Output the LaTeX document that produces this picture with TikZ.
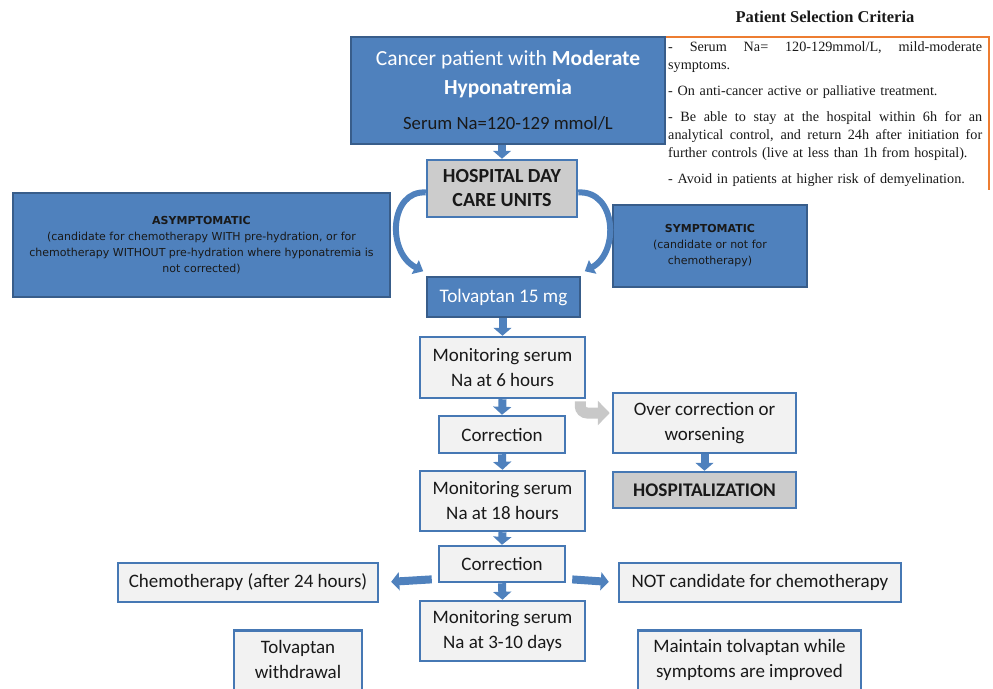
\documentclass[tikz,border=0pt]{standalone}
\usepackage{fontspec}
\setmainfont{Carlito}
\newfontfamily\verd{DejaVu Sans}
\newfontfamily\camb{Liberation Serif}
\usetikzlibrary{arrows.meta}
\definecolor{bfill}{RGB}{79,129,189}
\definecolor{bdraw}{RGB}{56,93,138}
\definecolor{lfill}{RGB}{242,242,242}
\definecolor{ldraw}{RGB}{70,120,180}
\definecolor{gfill}{RGB}{204,204,204}
\definecolor{garrow}{RGB}{200,200,200}
\definecolor{org}{RGB}{237,125,49}
\definecolor{txt}{RGB}{25,25,25}
\newcommand{\justline}[1]{\leavevmode\hbox to 314pt{\spaceskip=0.3em plus 3em minus 0.05em\relax #1}}
\begin{document}
\begin{tikzpicture}[x=1pt,y=-1pt,
  bluebox/.style={draw=bdraw, line width=1.5pt, fill=bfill, align=center, inner sep=0pt},
  lightbox/.style={draw=ldraw, line width=2.5pt, fill=lfill, align=center, inner sep=0pt,
    font=\fontsize{19}{25}\selectfont, text=txt},
  graybox/.style={draw=ldraw, line width=2.5pt, fill=gfill, align=center, inner sep=0pt, text=txt},
  smalltext/.style={font=\verd\fontsize{11}{16}\selectfont, text=txt},
  blockarrow/.style={draw=bfill, line width=8pt, -{Triangle[width=18pt,length=8pt]}},
  curvearrow/.style={draw=bfill, line width=6pt, -{Triangle[width=15pt,length=9pt]}},
  grayarrow/.style={draw=garrow, line width=11pt, rounded corners=7pt, -{Triangle[width=24pt,length=12pt]}},
  critline/.style={draw=org}
]
\useasboundingbox (0,0) rectangle (993,688);

% title and criteria
\node[font=\camb\bfseries\fontsize{16.5}{18}\selectfont, text=txt] (crittitle) at (825,17) {Patient Selection Criteria};
\draw[critline, line width=2.5pt] (662,37) -- (990,37);
\draw[critline, line width=1.3pt] (989,37) -- (989,190);
\node[anchor=north west, inner sep=0pt, text width=314pt, font=\camb\fontsize{14.2}{18}\selectfont, text=txt] (crit) at (668,41) {%
\justline{- \hfill Serum \hfill Na= \hfill 120-129mmol/L, \hfill mild-moderate}\\
symptoms.\\[8pt]
- On anti-cancer active or palliative treatment.\\[8pt]
\justline{- Be able to stay at the hospital within 6h for an}\\
\justline{analytical control, and return 24h after initiation for}\\
further controls (live at less than 1h from hospital).\\[8pt]
- Avoid in patients at higher risk of demyelination.};

% boxes
\node[bluebox, minimum width=314pt, minimum height=107pt, text=white, font=\fontsize{21.5}{29}\selectfont] (top) at (508,90.5)
  {Cancer patient with \textbf{Moderate}\\
   \textbf{Hyponatremia}\\[6pt]
   {\color{txt}\fontsize{18.7}{22}\selectfont Serum Na=120-129 mmol/L}};
\node[graybox, minimum width=150pt, minimum height=57pt, font=\bfseries\fontsize{20}{24}\selectfont] (hosp) at (502,188.5)
  {HOSPITAL DAY\\CARE UNITS};
\node[bluebox, minimum width=377pt, minimum height=104pt, smalltext] (asym) at (201.5,245)
  {\textbf{ASYMPTOMATIC}\\(candidate for chemotherapy WITH pre-hydration, or for\\
   chemotherapy WITHOUT pre-hydration where hyponatremia is\\not corrected)};
\node[bluebox, minimum width=194pt, minimum height=82pt, smalltext] (sym) at (710,246)
  {\textbf{SYMPTOMATIC}\\(candidate or not for\\chemotherapy)};
\node[bluebox, minimum width=153pt, minimum height=40pt, text=white, font=\fontsize{19.2}{22}\selectfont] (tolv) at (503.5,297)
  {Tolvaptan 15 mg};
\node[lightbox, minimum width=165pt, minimum height=61pt] (mon6) at (502.5,367.5)
  {Monitoring serum\\Na at 6 hours};
\node[lightbox, minimum width=126pt, minimum height=37pt] (corr1) at (502,434.5) {Correction};
\node[lightbox, minimum width=165pt, minimum height=60pt] (mon18) at (502.5,501)
  {Monitoring serum\\Na at 18 hours};
\node[lightbox, minimum width=126pt, minimum height=36pt] (corr2) at (502,564) {Correction};
\node[lightbox, minimum width=165pt, minimum height=60pt] (mon310) at (502.5,631)
  {Monitoring serum\\Na at 3-10 days};
\node[lightbox, minimum width=260pt, minimum height=39pt] (chemo) at (248,582.5)
  {Chemotherapy (after 24 hours)};
\node[lightbox, minimum width=282pt, minimum height=39pt] (notcand) at (760,582.5)
  {NOT candidate for chemotherapy};
\node[lightbox, minimum width=128pt, minimum height=64pt, anchor=north] (withdraw) at (298,629)
  {\\[-17pt]Tolvaptan\\withdrawal};
\node[lightbox, minimum width=223pt, minimum height=64pt, anchor=north] (maintain) at (749.5,629)
  {\\[-17pt]Maintain tolvaptan while\\symptoms are improved};
\node[lightbox, minimum width=183pt, minimum height=60pt] (over) at (704.5,423)
  {Over correction or\\worsening};
\node[graybox, minimum width=183pt, minimum height=36pt, font=\bfseries\fontsize{19.3}{22}\selectfont] (hospz) at (704.5,490)
  {HOSPITALIZATION};

% arrows
\draw[blockarrow] (hosp.north |- top.south) -- (hosp.north);
\draw[blockarrow] (tolv.south -| mon6.north) -- (mon6.north);
\draw[blockarrow] (mon6.south) -- (corr1.north);
\draw[blockarrow] (corr1.south) -- (mon18.north);
\draw[blockarrow] (mon18.south) -- (corr2.north);
\draw[blockarrow] (corr2.south) -- (mon310.north);
\draw[blockarrow] (over.south) -- (hospz.north);
\draw[blockarrow, shorten <=6pt, shorten >=12pt] ([yshift=-15pt]corr2.west) -- (chemo.east);
\draw[blockarrow, shorten <=6pt, shorten >=9pt] ([yshift=-15pt]corr2.east) -- (notcand.west);
\draw[curvearrow] ([yshift=-4pt]hosp.west) .. controls (390,190) and (386,252) .. ([shift={(-3pt,5pt)}]tolv.north west);
\draw[curvearrow] ([yshift=-4pt]hosp.east) .. controls (616,190) and (620,252) .. ([shift={(4pt,5pt)}]tolv.north east);
\draw[grayarrow, shorten <=2pt, shorten >=2pt] ([xshift=-6pt]mon6.south east) |- ([yshift=10pt]over.west);
\end{tikzpicture}
\end{document}
